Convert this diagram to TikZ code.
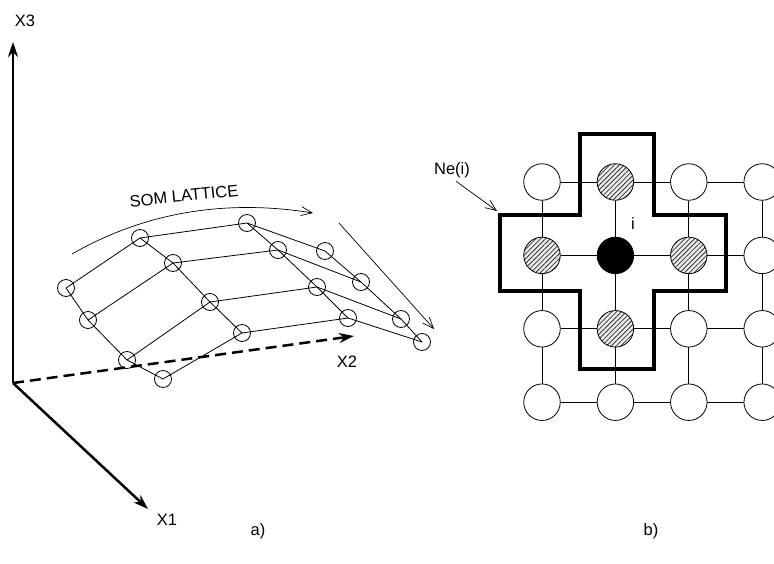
\documentclass[tikz,border=0pt]{standalone}
\usepackage{fontspec}
\setmainfont{Liberation Sans}
\usetikzlibrary{arrows.meta, patterns.meta}

\begin{document}
\begin{tikzpicture}[x=1pt, y=-1pt, >=Stealth,
      font=\fontsize{16.5}{19}\selectfont,
      axis/.style={line width=2.5pt, -{Stealth[length=15pt, width=10pt]}},
      arr/.style={line width=0.7pt, -{Straight Barb[length=11pt, width=9pt]}},
      lnode/.style={circle, draw, line width=0.8pt, minimum size=17pt, inner sep=0pt},
      link/.style={line width=0.8pt},
      gnode/.style={circle, draw, line width=0.8pt, fill=white, minimum size=36.5pt, inner sep=0pt},
      hnode/.style={gnode, preaction={fill=gray!15},
                    pattern={Lines[angle=45, distance=3.4pt, line width=0.8pt]}, pattern color=black!80},
      cnode/.style={gnode, fill=black},
      border/.style={line width=3.4pt, line join=miter}]

    \useasboundingbox (0,0) rectangle (774,563);

    % a) axes
    \coordinate (o)  at (13,383);
    \coordinate (x3) at (13,42);
    \coordinate (x1) at (148,509);
    \coordinate (x2) at (354,336);
    \draw[axis] (o) -- (x3);
    \draw[axis] (o) -- (x1);
    \draw[axis, dash pattern=on 11pt off 6pt] (o) -- (x2);

    \node (lx3) at (25,21)   {X3};
    \node (lx1) at (167,520) {X1};
    \node (lx2) at (347,362) {X2};

    % lattice nodes, columns a..d
    \foreach \n/\px/\py in {a0/66/288, a1/88/320, a2/127/360, a3/163/379,
                            b0/140/238, b1/173/263, b2/210/302, b3/242/333,
                            c0/247/223, c1/278/250, c2/317/287, c3/348/318,
                            d0/325/251, d1/361/282, d2/401/319, d3/422/342}
      \node[lnode] (\n) at (\px,\py) {};

    \foreach \c in {a,b,c,d}
      \draw[link] (\c0.center) -- (\c1.center) -- (\c2.center) -- (\c3.center);
    \foreach \r in {0,...,3}
      \draw[link] (a\r.center) -- (b\r.center) -- (c\r.center) -- (d\r.center);

    % lattice arrows
    \coordinate (s0) at (72,254);
    \coordinate (s1) at (313,213);
    \draw[arr] (s0) .. controls (140,215) and (220,198) .. (s1);
    \node[rotate=6] (som) at (184,196) {SOM LATTICE};

    \coordinate (t0) at (339,223);
    \coordinate (t1) at (434,329);
    \draw[arr] (t0) -- (t1);

    \node (la) at (258,531) {a)};

    % b) neighbourhood grid
    \def\gs{73.4}  % grid spacing

    \foreach \c/\r in {0/0, 2/0, 3/0, 3/1, 0/2, 2/2, 3/2, 0/3, 1/3, 2/3, 3/3}
      \node[gnode] (g\c\r) at ({542+\gs*\c},{182+\gs*\r}) {};
    \foreach \c/\r in {1/0, 0/1, 2/1, 1/2}
      \node[hnode] (g\c\r) at ({542+\gs*\c},{182+\gs*\r}) {};
    \node[cnode] (g11) at ({542+\gs},{182+\gs}) {};

    \foreach \c in {0,...,3}
      \foreach \r [count=\rn] in {0,...,2}
        \draw[link] (g\c\r) -- (g\c\rn);
    \foreach \r in {0,...,3}
      \foreach \c [count=\cn] in {0,...,2}
        \draw[link] (g\c\r) -- (g\cn\r);

    \node (ilab) at (633,224) {i};

    % neighbourhood border
    \draw[border] (580,134) -- (654,134) -- (654,215) -- (726,215) -- (726,291)
      -- (654,291) -- (654,369) -- (580,369) -- (580,291) -- (500,291)
      -- (500,215) -- (580,215) -- cycle;

    \node (ne) at (452,170) {Ne(i)};
    \coordinate (necorner) at (497,211);
    \draw[arr] ([xshift=4pt]ne.south) -- (necorner);

    \node (lb) at (651,531) {b)};

\end{tikzpicture}
\end{document}
